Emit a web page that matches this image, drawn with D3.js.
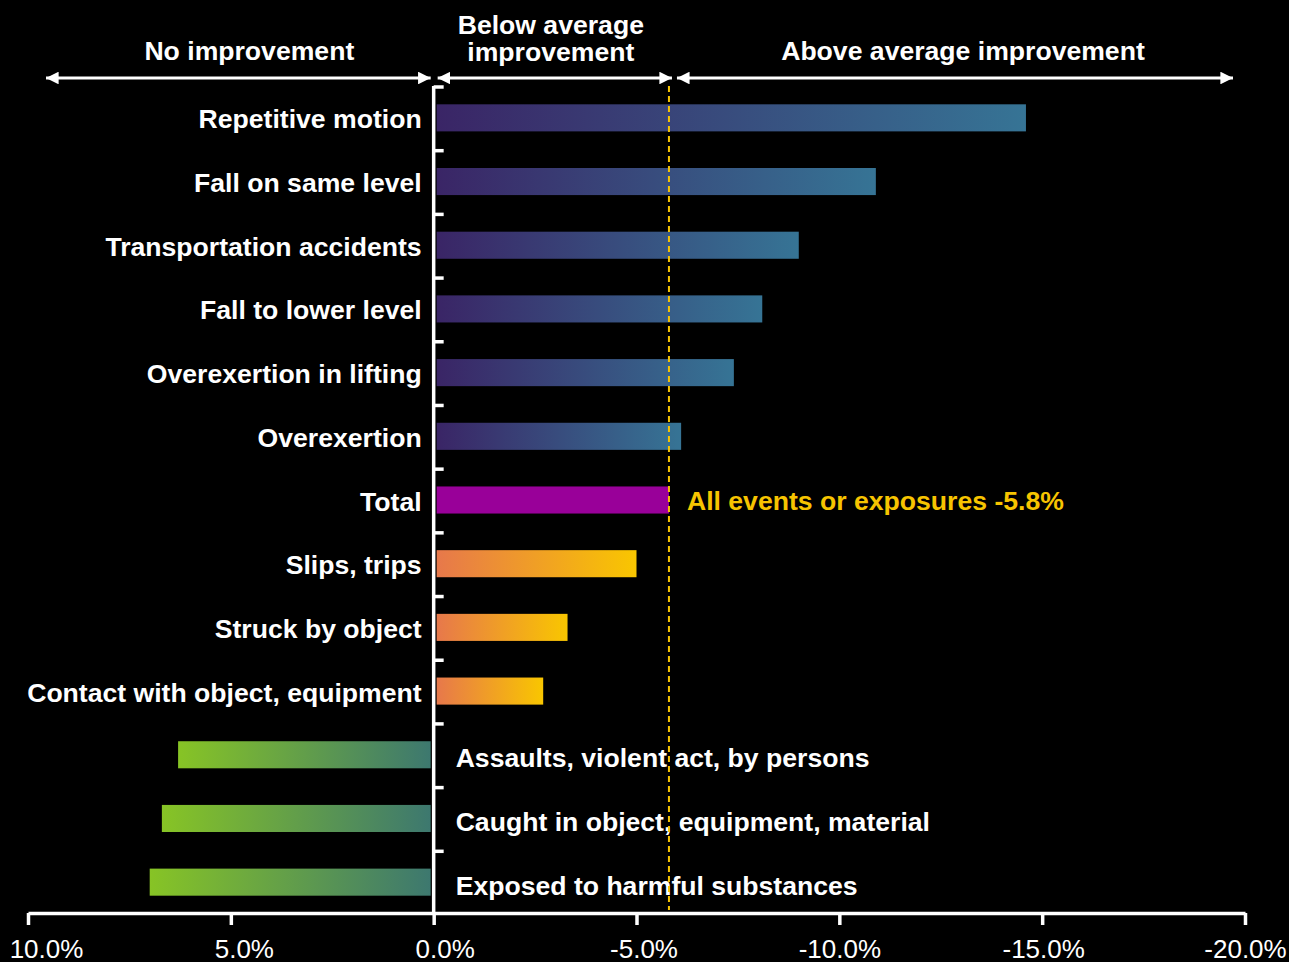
<!DOCTYPE html>
<html>
<head>
<meta charset="utf-8">
<script src="https://cdn.jsdelivr.net/npm/d3@7"></script>
<style>
  html, body { margin: 0; padding: 0; background: #000; }
  svg { display: block; }
</style>
</head>
<body>
<svg id="chart" width="1289" height="962"></svg>
<script>
// ---- data ----
const categories = [
  "Repetitive motion", "Fall on same level", "Transportation accidents",
  "Fall to lower level", "Overexertion in lifting", "Overexertion", "Total",
  "Slips, trips", "Struck by object", "Contact with object, equipment",
  "Assaults, violent act, by persons", "Caught in object, equipment, material",
  "Exposed to harmful substances"
];
const values = [-14.6, -10.9, -9.0, -8.1, -7.4, -6.1, -5.8, -5.0, -3.3, -2.7, 6.3, 6.7, 7.0];
const groups = ["blue", "blue", "blue", "blue", "blue", "blue", "total", "orange", "orange", "orange", "green", "green", "green"];
const xTicks = [10, 5, 0, -5, -10, -15, -20];
const tickLabels = ["10.0%", "5.0%", "0.0%", "-5.0%", "-10.0%", "-15.0%", "-20.0%"];
const average = -5.8;
const averageLabel = "All events or exposures -5.8%";
const zones = [
  { lines: ["No improvement"], from: 10, to: 0 },
  { lines: ["Below average", "improvement"], from: 0, to: -5.8 },
  { lines: ["Above average improvement"], from: -5.8, to: -20 }
];

// ---- setup ----
const svg = d3.select("#chart");
const x = d3.scaleLinear().domain([10, -20]).range([28, 1245]);
const y = d3.scaleBand().domain(categories).range([86, 914]).paddingInner(0.575).paddingOuter(0.2875);
const BOLD = "'Liberation Sans', Arial, Helvetica, sans-serif";
const NARROW = "'Liberation Sans Narrow', 'Arial Narrow', 'Liberation Sans', Arial, sans-serif";
const gold = "#f7c400";
const FS = 26.6;

const defs = svg.append("defs");
const grads = {
  blue: ["#3a2566", "#367495"],
  orange: ["#e7784b", "#f9c600"],
  green: ["#87c425", "#3d786f"]
};
Object.entries(grads).forEach(([k, c]) => {
  const g = defs.append("linearGradient").attr("id", "g-" + k)
    .attr("x1", 0).attr("x2", 1).attr("y1", 0).attr("y2", 0);
  g.append("stop").attr("offset", "0%").attr("stop-color", c[0]);
  g.append("stop").attr("offset", "100%").attr("stop-color", c[1]);
});
defs.append("marker").attr("id", "ah").attr("viewBox", "0 0 10 10")
  .attr("refX", 10).attr("refY", 5).attr("markerWidth", 4.2).attr("markerHeight", 4.2)
  .attr("markerUnits", "strokeWidth").attr("orient", "auto-start-reverse")
  .append("path").attr("d", "M0,0 L10,5 L0,10 Z").attr("fill", "#fff");

// ---- bars ----
svg.append("g").selectAll("rect").data(categories).join("rect")
  .attr("x", (d, i) => values[i] < 0 ? x(0) + 3 : x(values[i]))
  .attr("width", (d, i) => Math.abs(x(values[i]) - x(0)) - 3)
  .attr("y", d => y(d))
  .attr("height", y.bandwidth())
  .attr("fill", (d, i) => groups[i] === "total" ? "#990099" : `url(#g-${groups[i]})`);

// ---- category labels ----
svg.append("g").selectAll("text").data(categories).join("text")
  .attr("x", (d, i) => values[i] < 0 ? x(0) - 12 : x(0) + 22)
  .attr("y", (d, i) => y(d) + y.bandwidth() / 2 + (values[i] < 0 ? 1 : 3))
  .attr("dy", "0.36em")
  .attr("text-anchor", (d, i) => values[i] < 0 ? "end" : "start")
  .attr("fill", "#fff")
  .attr("font-family", BOLD).attr("font-weight", "bold").attr("font-size", FS)
  .text(d => d);

// ---- y axis line with ticks at band boundaries ----
const step = y.step();
const yAxisG = svg.append("g");
yAxisG.append("line").attr("x1", x(0)).attr("x2", x(0))
  .attr("y1", y.range()[0]).attr("y2", 915)
  .attr("stroke", "#fff").attr("stroke-width", 3.5);
const boundaries = d3.range(categories.length).map(i => y(categories[i]) - (step - y.bandwidth()) / 2);
yAxisG.selectAll(".yt").data(boundaries).join("line")
  .attr("x1", x(0)).attr("x2", x(0) + 10)
  .attr("y1", d => d + 1).attr("y2", d => d + 1)
  .attr("stroke", "#fff").attr("stroke-width", 3.5);

// ---- bottom axis ----
const labelShift = [18, 13, 11, 7, 0, 1, 0];
const xAxis = d3.axisBottom(x).tickValues(xTicks)
  .tickFormat((d, i) => tickLabels[i]).tickSizeInner(12).tickSizeOuter(0).tickPadding(15);
const xg = svg.append("g").attr("transform", "translate(0,913)").call(xAxis);
xg.select(".domain").attr("stroke", "#fff").attr("stroke-width", 3.5);
xg.selectAll(".tick line").attr("stroke", "#fff").attr("stroke-width", 3.5);
xg.selectAll(".tick text").attr("fill", "#fff")
  .attr("dx", (d, i) => labelShift[i])
  .attr("font-family", NARROW).attr("font-size", 26).attr("font-stretch", "condensed");

// ---- average dashed line ----
svg.append("line").attr("x1", x(average)).attr("x2", x(average))
  .attr("y1", 86).attr("y2", 910)
  .attr("stroke", gold).attr("stroke-width", 2).attr("stroke-dasharray", "6,4");
svg.append("text").attr("x", x(average) + 18)
  .attr("y", y("Total") + y.bandwidth() / 2).attr("dy", "0.36em")
  .attr("fill", gold).attr("font-family", BOLD).attr("font-weight", "bold").attr("font-size", FS)
  .text(averageLabel);

// ---- zone headers with double arrows ----
const insets = [[17, -2], [3, 4], [7, -11]];
const textShift = [11, -4, 8];
zones.forEach((z, i) => {
  const x1 = x(z.from) + insets[i][0], x2 = x(z.to) + insets[i][1];
  svg.append("line").attr("x1", x1 + 1).attr("x2", x2 - 1).attr("y1", 78).attr("y2", 78)
    .attr("stroke", "#fff").attr("stroke-width", 3)
    .attr("marker-start", "url(#ah)").attr("marker-end", "url(#ah)");
  const cx = (x1 + x2) / 2 + textShift[i];
  const t = svg.append("text").attr("text-anchor", "middle").attr("fill", "#fff")
    .attr("font-family", BOLD).attr("font-weight", "bold").attr("font-size", FS);
  const n = z.lines.length;
  z.lines.forEach((ln, j) => {
    t.append("tspan").attr("x", cx).attr("y", (n === 1 ? 60 : 34 + j * 27)).text(ln);
  });
});
</script>
</body>
</html>
